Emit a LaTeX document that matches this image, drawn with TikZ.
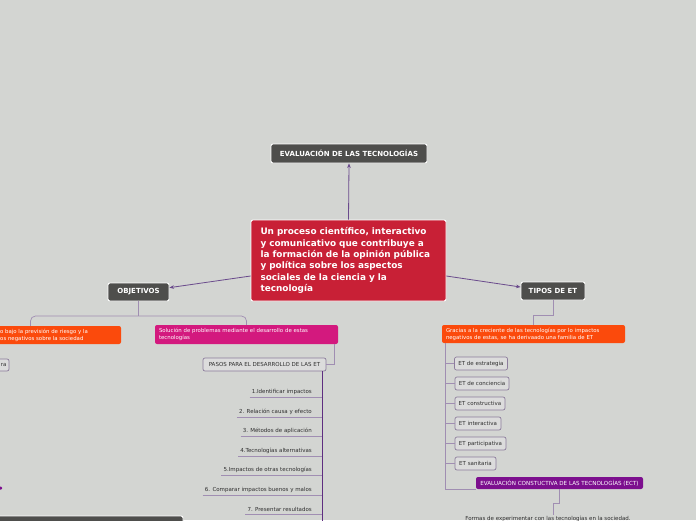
\documentclass[tikz,border=0pt]{standalone}
\usepackage{fontspec}
\setmainfont{DejaVu Sans}
\usetikzlibrary{arrows.meta,calc}
\definecolor{bg}{HTML}{D3D5D2}
\definecolor{darkc}{HTML}{4E4E4C}
\definecolor{redc}{HTML}{C82036}
\definecolor{orangec}{HTML}{FB4A0C}
\definecolor{magc}{HTML}{D3197E}
\definecolor{purc}{HTML}{7C0F8E}
\definecolor{lfill}{HTML}{DCDCDC}
\definecolor{lbord}{HTML}{8C7C9C}
\definecolor{txtc}{HTML}{2E2E2E}
\definecolor{lineD}{HTML}{6A4A8C}
\definecolor{lineL}{HTML}{A08EB2}
\definecolor{lineS}{HTML}{5E2E80}
\begin{document}
\begin{tikzpicture}[x=1pt,y=-1pt,
  darkbox/.style={draw=white, line width=0.9pt, fill=darkc, rounded corners=2pt, text=white,
    font=\bfseries\fontsize{7}{8}\selectfont, inner sep=0pt},
  redbox/.style={draw=white, line width=0.9pt, fill=redc, rounded corners=2pt, text=white,
    font=\bfseries\fontsize{8.9}{11.3}\selectfont, inner sep=0pt, align=left, text width=176pt},
  colbox/.style={rounded corners=2pt, text=white, font=\fontsize{5.4}{7}\selectfont,
    inner sep=0pt, align=left},
  lightbox/.style={draw=lbord, fill=lfill, line width=0.7pt, rounded corners=2pt, text=txtc,
    font=\fontsize{5.5}{6.5}\selectfont, inner sep=0pt},
  stepitem/.style={text=txtc, font=\fontsize{5.5}{6.5}\selectfont, inner xsep=2pt, inner ysep=2.5pt, anchor=south east},
  conn/.style={draw=lineL, line width=0.7pt},
  spine/.style={draw=lineS, line width=0.9pt},
  arr/.style={draw=lineD, line width=0.8pt, -{Stealth[length=4.5pt,width=3.6pt]}}
]
\path[use as bounding box] (0,0) rectangle (696,520);
\clip (0,0) rectangle (696,520);
\fill[bg] (0,0) rectangle (696,520);

% main nodes
\node[darkbox, minimum width=156pt, minimum height=19pt] (eval) at (349,153.5) {EVALUACIÓN DE LAS TECNOLOGÍAS};
\node[redbox, minimum width=195pt, minimum height=81pt] (central) at (348.5,260.5)
  {Un proceso científico, interactivo\\y comunicativo que contribuye a\\la formación de la opinión pública\\y política sobre los aspectos\\sociales de la ciencia y la\\tecnología};
\node[darkbox, minimum width=61pt, minimum height=18pt] (obj) at (138.5,292) {OBJETIVOS};
\node[darkbox, minimum width=64pt, minimum height=18pt] (tipos) at (553,291) {TIPOS DE ET};

\draw[arr] (central.189) -- (obj.8);
\draw[arr] (central.351) -- (tipos.173);
\draw[arr] (central.north) -- (eval.south);

% objetivos branch
\coordinate (busL) at (0,316);
\node[colbox, fill=orangec, minimum width=181pt, minimum height=18pt] (ol) at (30.5,335) {};
\node[colbox, anchor=west] (olt) at (0,335) {o bajo la previsión de riesgo y la\\os negativos sobre la sociedad};
\node[colbox, fill=magc, minimum width=183pt, minimum height=19pt, text width=175pt] (mg) at (246.5,334.5)
  {Solución de problemas mediante el desarrollo de estas\\tecnologías};
\draw[conn] (obj.south) -- (obj.south |- busL);
\draw[conn, rounded corners=5pt] (ol.north) |- (obj.south |- busL) -| (mg.north);

\node[lightbox, minimum height=12pt, text width=34pt, align=right] (ra) at (-8,365) {ra\hspace*{2.5pt}};

\node[lightbox, minimum width=123pt, minimum height=13pt] (pasos) at (264.5,364.5) {PASOS PARA EL DESARROLLO DE LAS ET};
\draw[conn] ($(mg.south east)+(-4,0)$) |- (pasos.east);

\coordinate (sp) at ($(pasos.south east)+(-4,0)$);
\draw[spine] (sp) -- (sp |- 0,530);
\node[stepitem] (s1) at (314,397) {1.Identificar impactos};
\node[stepitem] (s2) at (314,417) {2. Relación causa y efecto};
\node[stepitem] (s3) at (314,436) {3. Métodos de aplicación};
\node[stepitem] (s4) at (314,456) {4.Tecnologías alternativas};
\node[stepitem] (s5) at (314,475) {5.Impactos de otras tecnologías};
\node[stepitem] (s6) at (314,495) {6. Comparar impactos buenos y malos};
\node[stepitem] (s7) at (314,514) {7. Presentar resultados};
\foreach \s in {s1,s2,s3,s4,s5,s6,s7}{
  \draw[conn] (\s.south west) -- (\s.south west -| sp);
}

% tipos branch
\coordinate (busR) at (0,315);
\node[colbox, fill=orangec, minimum width=183pt, minimum height=18pt, text width=175pt] (orr) at (533.5,334)
  {Gracias a la creciente de las tecnologías por lo impactos\\negativos de estas, se ha derivaado una familia de ET};
\draw[conn] (tipos.south) -- (tipos.south |- busR) -| (orr.north);

\coordinate (spR) at ($(orr.south west)+(4,0)$);
\node[lightbox, minimum height=13pt, minimum width=53pt] (e1) at (481,363.5) {ET de estrategia};
\node[lightbox, minimum height=13pt, minimum width=54pt] (e2) at (482,383.5) {ET de conciencia};
\node[lightbox, minimum height=13pt, minimum width=50pt] (e3) at (480,403.5) {ET constructiva};
\node[lightbox, minimum height=13pt, minimum width=46pt] (e4) at (478,423.5) {ET interactiva};
\node[lightbox, minimum height=13pt, minimum width=51pt] (e5) at (480.5,443.5) {ET participativa};
\node[lightbox, minimum height=13pt, minimum width=41pt] (e6) at (475.5,463.5) {ET sanitaria};
\foreach \e in {e1,e2,e3,e4,e5,e6}{
  \draw[conn] (\e.west) -- (\e.west -| spR);
}

\node[colbox, fill=purc, minimum width=167pt, minimum height=12pt, font=\fontsize{5.6}{6.5}\selectfont] (ect) at (559.5,483)
  {EVALUACIÓN CONSTUCTIVA DE LAS TECNOLOGÍAS (ECT)};
\draw[conn] (spR) |- (ect.south west);

\node[text=txtc, font=\fontsize{5.5}{6.5}\selectfont, inner sep=1pt] (formas) at (548,518.5)
  {Formas de experimentar con las tecnologías en la sociedad.};
\draw[conn] (ect.south) -- ++(0,14) -| ($(formas.north)+(5,0)$);

% partial shapes at the edges
\node[darkbox, minimum width=190pt, minimum height=20pt] (bl) at (88,526) {};
\node[fill=purc, minimum width=6pt, minimum height=3pt, inner sep=0pt, rounded corners=1pt] (pd) at (-1,488) {};
\end{tikzpicture}
\end{document}
